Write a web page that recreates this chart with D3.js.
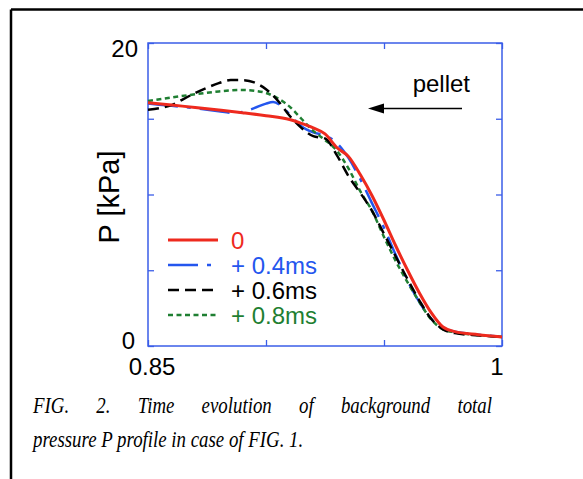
<!DOCTYPE html>
<html lang="en">
  <head>
    <meta charset="utf-8" />
    <title>Background total pressure profile</title>
    <script src="https://d3js.org/d3.v7.min.js"></script>
    <style>
      body { margin: 0; background: #fff; }
      svg { display: block; }
      text { font-family: "Liberation Sans", Arial, Helvetica, sans-serif; }
      text.caption { font-family: "Liberation Serif", "Times New Roman", Times, serif; font-style: italic; }
    </style>
  </head>
  <body>
    <svg width="583" height="479"></svg>
  </body>
  <script>
    // Data to plot
    const seriesNames = ['0', '+ 0.4ms', '+ 0.6ms', '+ 0.8ms'];

    const x0 = [0.85, 0.86, 0.87, 0.88, 0.89, 0.90, 0.91, 0.915, 0.92, 0.925, 0.93, 0.935, 0.94, 0.945, 0.95, 0.955, 0.96, 0.965, 0.97, 0.975, 0.98, 0.99, 1.0];
    const p0 = [16.06, 15.9, 15.75, 15.58, 15.4, 15.2, 14.95, 14.7, 14.4, 14.0, 13.1, 12.5, 11.3, 9.9, 8.3, 6.6, 5.0, 3.5, 2.2, 1.25, 0.95, 0.75, 0.6];

    const x04 = [0.85, 0.86, 0.87, 0.88, 0.885, 0.89, 0.895, 0.90, 0.903, 0.906, 0.91, 0.915, 0.92, 0.925, 0.93, 0.935, 0.94, 0.945, 0.95, 0.955, 0.96, 0.965, 0.97, 0.975, 0.98, 0.99, 1.0];
    const p04 = [16.0, 15.85, 15.7, 15.5, 15.4, 15.45, 15.7, 16.0, 16.1, 15.9, 15.3, 14.5, 14.1, 13.9, 13.4, 12.4, 11.0, 9.4, 7.8, 6.0, 4.3, 2.9, 1.8, 1.15, 0.95, 0.75, 0.6];

    const x06 = [0.85, 0.855, 0.86, 0.865, 0.87, 0.875, 0.88, 0.885, 0.89, 0.895, 0.90, 0.905, 0.91, 0.915, 0.92, 0.925, 0.93, 0.935, 0.94, 0.945, 0.95, 0.955, 0.96, 0.965, 0.97, 0.975, 0.98, 0.99, 1.0];
    const p06 = [15.6, 15.7, 15.9, 16.3, 16.7, 17.05, 17.35, 17.55, 17.55, 17.4, 16.95, 16.2, 15.2, 14.4, 13.85, 13.7, 12.6, 11.2, 10.1, 8.9, 7.4, 5.9, 4.4, 3.0, 1.8, 1.1, 0.85, 0.7, 0.6];

    const x08 = [0.85, 0.86, 0.87, 0.88, 0.89, 0.895, 0.90, 0.905, 0.91, 0.915, 0.92, 0.925, 0.93, 0.935, 0.94, 0.945, 0.95, 0.955, 0.96, 0.965, 0.97, 0.975, 0.98, 0.99, 1.0];
    const p08 = [16.17, 16.4, 16.62, 16.8, 16.9, 16.85, 16.7, 16.35, 15.8, 15.0, 14.2, 13.6, 12.9, 11.7, 10.2, 8.9, 7.2, 5.6, 4.2, 2.9, 1.75, 1.1, 0.9, 0.72, 0.6];

    const xTicks = [0.85, 0.9, 0.95, 1.0];
    const yTicks = [0, 5, 10, 15, 20];
    const xTickLabels = ['0.85', '1'];
    const yTickLabels = ['0', '20'];

    const captionLine1 = 'FIG. 2. Time evolution of background total';
    const captionLine2 = 'pressure P profile in case of FIG. 1.';

    // Styles per series
    const colors = ['#ee2a1e', '#2456ee', '#000000', '#1f7f32'];
    const dashes = [null, '30,9,4,9', '11,6', '5,3.5'];
    const widths = [3, 2.5, 2.5, 2.5];

    const series = [
      { xs: x0, ys: p0 },
      { xs: x04, ys: p04 },
      { xs: x06, ys: p06 },
      { xs: x08, ys: p08 }
    ].map((s, i) => ({
      name: seriesNames[i],
      color: colors[i],
      dash: dashes[i],
      width: widths[i],
      points: s.xs.map((x, j) => ({ x: x, y: s.ys[j] }))
    }));

    const svg = d3.select('svg');

    // Outer frame (only top and left edges are visible)
    svg.append('line').attr('x1', 11).attr('y1', 9.5).attr('x2', 583).attr('y2', 9.5)
      .attr('stroke', '#000').attr('stroke-width', 2.5);
    svg.append('line').attr('x1', 11).attr('y1', 9.5).attr('x2', 11).attr('y2', 479)
      .attr('stroke', '#000').attr('stroke-width', 2.5);

    const plotLeft = 148, plotTop = 43, width = 354, height = 303;
    const chart = svg.append('g').attr('transform', `translate(${plotLeft}, ${plotTop})`);

    const xScale = d3.scaleLinear().domain([0.85, 1.0]).range([0, width]);
    const yScale = d3.scaleLinear().domain([0, 20]).range([height, 0]);

    const axisColor = '#3b5ee8';
    const tick = 6;

    // Axes with inward ticks on all four sides
    const styleAxis = (g) => {
      g.selectAll('text').remove();
      g.select('.domain').remove();
      g.selectAll('line').attr('stroke', axisColor).attr('stroke-width', 1.3);
    };
    chart.append('g').attr('transform', `translate(0, ${height})`)
      .call(d3.axisBottom(xScale).tickValues(xTicks).tickSize(-tick)).call(styleAxis);
    chart.append('g')
      .call(d3.axisTop(xScale).tickValues(xTicks).tickSize(-tick)).call(styleAxis);
    chart.append('g')
      .call(d3.axisLeft(yScale).tickValues(yTicks).tickSize(-tick)).call(styleAxis);
    chart.append('g').attr('transform', `translate(${width}, 0)`)
      .call(d3.axisRight(yScale).tickValues(yTicks).tickSize(-tick)).call(styleAxis);

    chart.append('rect').attr('width', width).attr('height', height)
      .attr('fill', 'none').attr('stroke', axisColor).attr('stroke-width', 1.5);

    // Tick labels
    chart.append('text').attr('x', xScale(0.85) + 4).attr('y', height + 29)
      .attr('text-anchor', 'middle').attr('font-size', 24).text(xTickLabels[0]);
    chart.append('text').attr('x', xScale(1.0) - 5).attr('y', height + 29)
      .attr('text-anchor', 'middle').attr('font-size', 24).text(xTickLabels[1]);
    chart.append('text').attr('x', -13).attr('y', yScale(0) + 3)
      .attr('text-anchor', 'end').attr('font-size', 24).text(yTickLabels[0]);
    chart.append('text').attr('x', -10).attr('y', yScale(20) + 14)
      .attr('text-anchor', 'end').attr('font-size', 24).text(yTickLabels[1]);

    // Y axis title
    svg.append('text')
      .attr('transform', `translate(119, 197) rotate(-90)`)
      .attr('text-anchor', 'middle').attr('font-size', 29).text('P [kPa]');

    // Curves
    const line = d3.line()
      .x((d) => xScale(d.x))
      .y((d) => yScale(d.y))
      .curve(d3.curveMonotoneX);

    const order = [1, 3, 2, 0];
    order.forEach((i) => {
      const s = series[i];
      chart.append('path')
        .datum(s.points)
        .attr('d', line)
        .attr('fill', 'none')
        .attr('stroke', s.color)
        .attr('stroke-width', s.width)
        .attr('stroke-dasharray', s.dash);
    });

    // Legend
    const legend = svg.append('g').attr('transform', 'translate(168, 240)');
    series.forEach((s, i) => {
      const row = legend.append('g').attr('transform', `translate(0, ${i * 25})`);
      row.append('line').attr('x1', 0).attr('x2', 50).attr('y1', 0).attr('y2', 0)
        .attr('stroke', s.color).attr('stroke-width', s.width)
        .attr('stroke-dasharray', s.dash);
      row.append('text').attr('x', 63).attr('y', 8.5)
        .attr('font-size', 24).attr('fill', s.color).text(s.name);
    });

    // Pellet annotation
    svg.append('text').attr('x', 470).attr('y', 92).attr('text-anchor', 'end')
      .attr('font-size', 24).text('pellet');
    svg.append('line').attr('x1', 462).attr('y1', 108.5).attr('x2', 380).attr('y2', 108.5)
      .attr('stroke', '#000').attr('stroke-width', 1.5);
    svg.append('path').attr('d', 'M368,108.5 L384,103.5 L384,113.5 Z').attr('fill', '#000');

    // Caption (narrow italic serif, first line justified)
    const squeeze = 0.82;
    const cap = svg.append('g').attr('transform', `translate(33, 0) scale(${squeeze}, 1)`);
    const cap1 = cap.append('text').attr('class', 'caption').attr('x', 0).attr('y', 413)
      .attr('font-size', 23).text(captionLine1);
    const natural = cap1.node().getComputedTextLength();
    const gaps = captionLine1.split(' ').length - 1;
    cap1.attr('word-spacing', ((492 - 33) / squeeze - natural) / gaps);
    cap.append('text').attr('class', 'caption').attr('x', 0).attr('y', 447)
      .attr('font-size', 23).text(captionLine2);
  </script>
</html>
